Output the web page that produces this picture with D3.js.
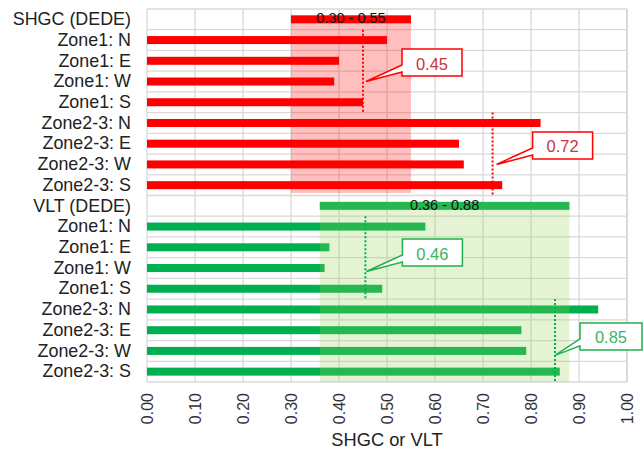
<!DOCTYPE html>
<html>
<head>
<meta charset="utf-8">
<script src="https://cdn.jsdelivr.net/npm/d3@7"></script>
<style>
  html, body { margin: 0; padding: 0; background: #ffffff; }
  svg { display: block; }
</style>
</head>
<body>
<svg id="chart" width="643" height="451"></svg>
<script>
// ---------------- data ----------------
const zoneLabels = ["Zone1: N", "Zone1: E", "Zone1: W", "Zone1: S",
                    "Zone2-3: N", "Zone2-3: E", "Zone2-3: W", "Zone2-3: S"];
const shgcHeader = "SHGC (DEDE)";
const vltHeader = "VLT (DEDE)";
const shgcValues = [0.50, 0.40, 0.39, 0.45, 0.82, 0.65, 0.66, 0.74];
const vltValues  = [0.58, 0.38, 0.37, 0.49, 0.94, 0.78, 0.79, 0.86];
const shgcRange = [0.30, 0.55];
const vltRange  = [0.36, 0.88];
const shgcAvg = [0.45, 0.72];
const vltAvg  = [0.455, 0.85];
const shgcAvgLabels = ["0.45", "0.72"];
const vltAvgLabels  = ["0.46", "0.85"];
const xTicks = [0.0, 0.1, 0.2, 0.3, 0.4, 0.5, 0.6, 0.7, 0.8, 0.9, 1.0];
const xTitle = "SHGC or VLT";

// ---------------- layout ----------------
const W = 643, H = 451;
const plot = { left: 147, right: 627, top: 9, bottom: 382 };
const RED = "#ff0000", GREEN = "#00b050";
const GRID = "#d9d9d9";
const labelFont = "'Liberation Sans', Arial, sans-serif";

const shgcCats = [shgcHeader].concat(zoneLabels.map((z, i) => "s" + i));
const vltCats  = [vltHeader].concat(zoneLabels.map((z, i) => "v" + i));
const categories = shgcCats.concat(vltCats);
const catText = {};
categories.forEach(c => catText[c] = c);
zoneLabels.forEach((z, i) => { catText["s" + i] = z; catText["v" + i] = z; });

const svg = d3.select("#chart");
svg.append("rect").attr("width", W).attr("height", H).attr("fill", "#fff");

const x = d3.scaleLinear().domain([0, 1]).range([plot.left, plot.right]);
const y = d3.scaleBand().domain(categories).range([plot.top, plot.bottom]).padding(0);
const bw = y.bandwidth();
const barH = 8;
const cy = c => y(c) + bw / 2;

// gridlines
const grid = svg.append("g");
grid.selectAll("line.v").data(xTicks).join("line")
  .attr("x1", d => x(d)).attr("x2", d => x(d))
  .attr("y1", plot.top).attr("y2", plot.bottom)
  .attr("stroke", GRID).attr("stroke-width", 1.3);
const hb = categories.map(c => y(c)).concat([plot.bottom]);
grid.selectAll("line.h").data(hb).join("line")
  .attr("x1", plot.left).attr("x2", plot.right)
  .attr("y1", d => d).attr("y2", d => d)
  .attr("stroke", GRID).attr("stroke-width", 1.3);
svg.append("line").attr("x1", plot.right).attr("x2", plot.right)
  .attr("y1", plot.top).attr("y2", plot.bottom)
  .attr("stroke", GRID).attr("stroke-width", 2);

// data bars
const barsG = svg.append("g");
barsG.selectAll("rect.s").data(shgcValues).join("rect")
  .attr("x", x(0)).attr("y", (d, i) => cy("s" + i) - barH / 2)
  .attr("width", d => x(d) - x(0)).attr("height", barH).attr("fill", RED);
barsG.selectAll("rect.v").data(vltValues).join("rect")
  .attr("x", x(0)).attr("y", (d, i) => cy("v" + i) - barH / 2)
  .attr("width", d => x(d) - x(0)).attr("height", barH).attr("fill", GREEN);

// range bars
const ranges = [
  { r: shgcRange, cat: shgcHeader, color: RED, shade: "rgba(255,0,0,0.25)",
    bottom: y(vltHeader) - 2.5 },
  { r: vltRange, cat: vltHeader, color: GREEN, shade: "rgba(146,208,80,0.25)",
    bottom: plot.bottom }
];
barsG.selectAll("rect.r").data(ranges).join("rect")
  .attr("x", d => x(d.r[0])).attr("y", d => cy(d.cat) - barH / 2)
  .attr("width", d => x(d.r[1]) - x(d.r[0])).attr("height", barH)
  .attr("fill", d => d.color);

// shaded regions (overlay)
svg.append("g").selectAll("rect").data(ranges).join("rect")
  .attr("x", d => x(d.r[0])).attr("y", d => cy(d.cat) - barH / 2)
  .attr("width", d => x(d.r[1]) - x(d.r[0]))
  .attr("height", d => d.bottom - (cy(d.cat) - barH / 2))
  .attr("fill", d => d.shade);

// range labels
svg.append("g").selectAll("text").data(ranges).join("text")
  .attr("x", d => x((d.r[0] + d.r[1]) / 2)).attr("y", d => cy(d.cat) - 1)
  .attr("text-anchor", "middle").attr("dominant-baseline", "central")
  .attr("font-family", labelFont).attr("font-size", 14.5).attr("fill", "#111")
  .text(d => d3.format(".2f")(d.r[0]) + " - " + d3.format(".2f")(d.r[1]));

// average lines + callouts
const avgs = [
  { v: shgcAvg[0], label: shgcAvgLabels[0], rows: ["s0","s3"], tipRow: "s2", color: RED, text: "#c8363a", tdx: 3, tdy: 0, bdx: 36 },
  { v: shgcAvg[1], label: shgcAvgLabels[1], rows: ["s4","s7"], tipRow: "s6", color: RED, text: "#c8363a", tdx: 4, tdy: 0, bdx: 36 },
  { v: vltAvg[0], label: vltAvgLabels[0], rows: ["v0","v3"], tipRow: "v2", color: "#22b14c", text: "#3cb55e", tdx: 1, tdy: 3.5, bdx: 36 },
  { v: vltAvg[1], label: vltAvgLabels[1], rows: ["v4","v7"], tipRow: "v6", color: "#22b14c", text: "#3cb55e", tdx: 0, tdy: 4.5, bdx: 25 }
];
const avgG = svg.append("g");
avgG.selectAll("line").data(avgs).join("line")
  .attr("x1", d => x(d.v)).attr("x2", d => x(d.v))
  .attr("y1", d => y(d.rows[0])).attr("y2", d => y(d.rows[1]) + bw)
  .attr("stroke", d => d.color === RED ? RED : GREEN)
  .attr("stroke-width", 2).attr("stroke-dasharray", "2,2");

const boxW = 60, boxH = 27;
avgs.forEach(d => {
  const tx = x(d.v) + d.tdx, ty = cy(d.tipRow) + d.tdy;
  const L = tx + d.bdx, B = ty - 5.5, T = B - boxH, R = L + boxW + (d.bdx < 30 ? 2 : 0);
  const p = d3.path();
  p.moveTo(L, T); p.lineTo(R, T); p.lineTo(R, B); p.lineTo(L, B);
  p.lineTo(L, B - 4); p.lineTo(tx, ty); p.lineTo(L, B - 11); p.closePath();
  avgG.append("path").attr("d", p.toString())
    .attr("fill", "#fff").attr("stroke", d.color).attr("stroke-width", 1.5)
    .attr("stroke-linejoin", "miter");
  avgG.append("text").attr("x", (L + R) / 2).attr("y", (T + B) / 2 + 1)
    .attr("text-anchor", "middle").attr("dominant-baseline", "central")
    .attr("font-family", labelFont).attr("font-size", 16.5).attr("fill", d.text)
    .text(d.label);
});

// axes
const yAxis = svg.append("g").attr("transform", `translate(${plot.left},0)`)
  .call(d3.axisLeft(y).tickSize(0).tickPadding(16).tickFormat(c => catText[c]));
yAxis.select(".domain").remove();
yAxis.selectAll("text").attr("font-family", labelFont).attr("font-size", 17.9)
  .attr("fill", "#222");

const xAxis = svg.append("g").attr("transform", `translate(0,${plot.bottom})`)
  .call(d3.axisBottom(x).tickValues(xTicks).tickSize(0).tickFormat(d3.format(".2f")));
xAxis.select(".domain").remove();
xAxis.selectAll("text")
  .attr("transform", "rotate(-90)")
  .attr("x", -11).attr("y", 0).attr("dy", "0.36em")
  .style("text-anchor", "end")
  .attr("font-family", labelFont).attr("font-size", 16).attr("fill", "#333");

svg.append("text").attr("x", (plot.left + plot.right) / 2).attr("y", 446)
  .attr("text-anchor", "middle").attr("font-family", labelFont)
  .attr("font-size", 18.3).attr("fill", "#222").text(xTitle);
</script>
</body>
</html>
